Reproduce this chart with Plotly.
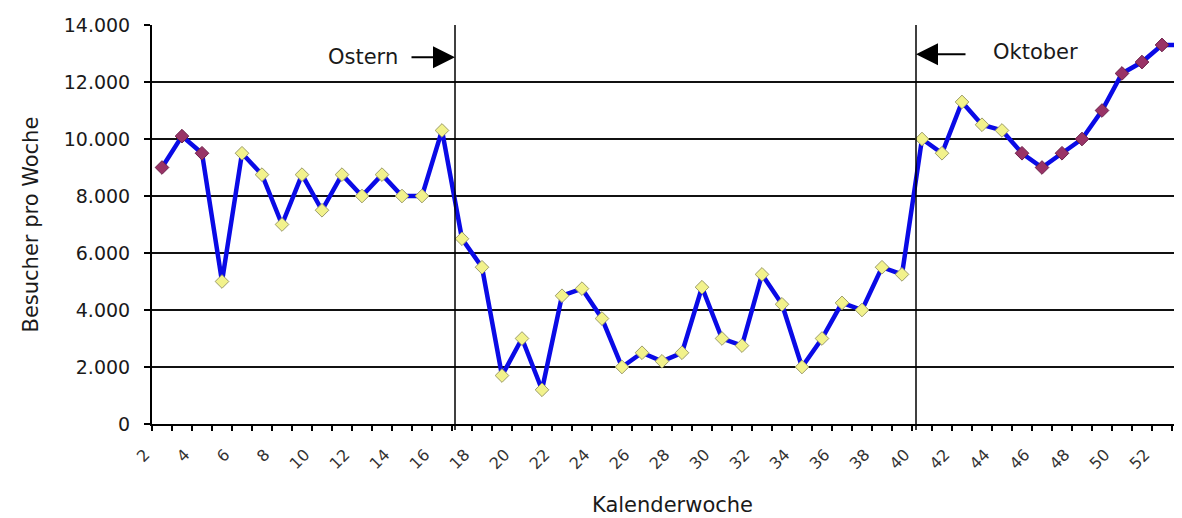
import plotly.graph_objects as go

# ---- data ----
weeks = [2, 3, 4, 5, 6, 7, 8, 9, 10, 11, 12, 13, 14, 15, 16, 17, 18, 19, 20, 21,
         22, 23, 24, 25, 26, 27, 28, 29, 30, 31, 32, 33, 34, 35, 36, 37, 38, 39, 40,
         41, 42, 43, 44, 45, 46, 47, 48, 49, 50, 51, 52, 53]
visitors = [9000, 10100, 9500, 5000, 9500, 8750, 7000, 8750, 7500, 8750, 8000, 8750,
            8000, 8000, 10300, 6500, 5500, 1700, 3000, 1200, 4500, 4750, 3700, 2000,
            2500, 2200, 2500, 4800, 3000, 2750, 5250, 4200, 2000, 3000, 4250, 4000,
            5500, 5250, 10000, 9500, 11300, 10500, 10300, 9500, 9000, 9500, 10000,
            11000, 12300, 12700, 13300, 13300]
purple_weeks = [2, 3, 4, 45, 46, 47, 48, 49, 50, 51, 52, 53]
tick_weeks = [2, 4, 6, 8, 10, 12, 14, 16, 18, 20, 22, 24, 26, 28, 30, 32, 34, 36,
              38, 40, 42, 44, 46, 48, 50, 52]
tick_labels = [str(w) for w in tick_weeks]
y_ticks = [0, 2000, 4000, 6000, 8000, 10000, 12000, 14000]
events = {"Ostern": 16.65, "Oktober": 39.7}

FONT = "DejaVu Sans"
TXT = "#1a1a1a"

marker_colors = ["#993366" if w in purple_weeks else "#F2F28C" for w in weeks]
marker_lines = ["#6a1f48" if w in purple_weeks else "#9c9c6a" for w in weeks]

fig = go.Figure()
fig.add_trace(go.Scatter(
    x=weeks, y=visitors, mode="lines",
    line=dict(color="#0a0ae6", width=4.5),
    cliponaxis=False, hoverinfo="skip", showlegend=False))
fig.add_trace(go.Scatter(
    x=weeks, y=visitors, mode="markers",
    marker=dict(symbol="diamond", size=10.5, color=marker_colors,
                line=dict(color=marker_lines, width=1)),
    cliponaxis=False, showlegend=False))

# event lines
for name, xv in events.items():
    fig.add_shape(type="line", xref="x", yref="paper", x0=xv, x1=xv, y0=-0.015, y1=1,
                  line=dict(color="black", width=1.5), layer="above")

y_arrow = 12870
# Ostern arrow (pointing right)
fig.add_annotation(x=events["Ostern"], y=y_arrow, ax=events["Ostern"] - 2.25, ay=y_arrow,
                   xref="x", yref="y", axref="x", ayref="y", text="",
                   showarrow=True, arrowhead=2, arrowsize=2.2, arrowwidth=2,
                   arrowcolor="black", standoff=0)
fig.add_annotation(x=events["Ostern"] - 4.6, y=y_arrow, xref="x", yref="y",
                   text="Ostern", showarrow=False, xanchor="center", yanchor="middle",
                   font=dict(family=FONT, size=21, color=TXT))
# Oktober arrow (pointing left)
fig.add_annotation(x=events["Oktober"], y=y_arrow + 100, ax=events["Oktober"] + 2.55, ay=y_arrow + 100,
                   xref="x", yref="y", axref="x", ayref="y", text="",
                   showarrow=True, arrowhead=2, arrowsize=2.2, arrowwidth=2,
                   arrowcolor="black", standoff=0)
fig.add_annotation(x=events["Oktober"] + 5.95, y=y_arrow + 200, xref="x", yref="y",
                   text="Oktober", showarrow=False, xanchor="center", yanchor="middle",
                   font=dict(family=FONT, size=21, color=TXT))

# axis titles
fig.add_annotation(xref="paper", yref="paper", x=(30 - 152) / 1030, y=0.5,
                   text="Besucher pro Woche", textangle=-90, showarrow=False,
                   xanchor="center", yanchor="middle",
                   font=dict(family=FONT, size=21, color=TXT))
fig.add_annotation(xref="paper", yref="paper", x=(672 - 152) / 1030, y=(424 - 505) / 399,
                   text="Kalenderwoche", showarrow=False,
                   xanchor="center", yanchor="middle",
                   font=dict(family=FONT, size=21, color=TXT))

fig.update_layout(
    width=1174, height=510,
    margin=dict(l=144, r=0, t=17, b=94),
    paper_bgcolor="white", plot_bgcolor="white",
    separators=",.",
    font=dict(family=FONT, color=TXT),
    xaxis=dict(range=[1.5, 53], showgrid=False, zeroline=False,
               showline=True, linecolor="black", linewidth=2,
               tickmode="array", tickvals=tick_weeks, ticktext=tick_labels,
               tickangle=-45, ticks="", ticklabelshift=-17, ticklabelstandoff=13,
               tickfont=dict(family=FONT, size=16, color="#333"),
               minor=dict(ticks="outside", tick0=1.5, dtick=1, ticklen=5,
                          tickcolor="black", tickwidth=1.5, showgrid=False)),
    yaxis=dict(range=[0, 14000], tickmode="array", tickvals=y_ticks,
               tickformat=",d", showgrid=True, gridcolor="#111", gridwidth=1.5,
               zeroline=False, showline=True, linecolor="black", linewidth=2,
               ticks="outside", ticklen=6, tickcolor="black", tickwidth=1.5,
               ticklabelstandoff=10,
               tickfont=dict(family=FONT, size=19, color=TXT)),
)

fig.write_html("out.html")
